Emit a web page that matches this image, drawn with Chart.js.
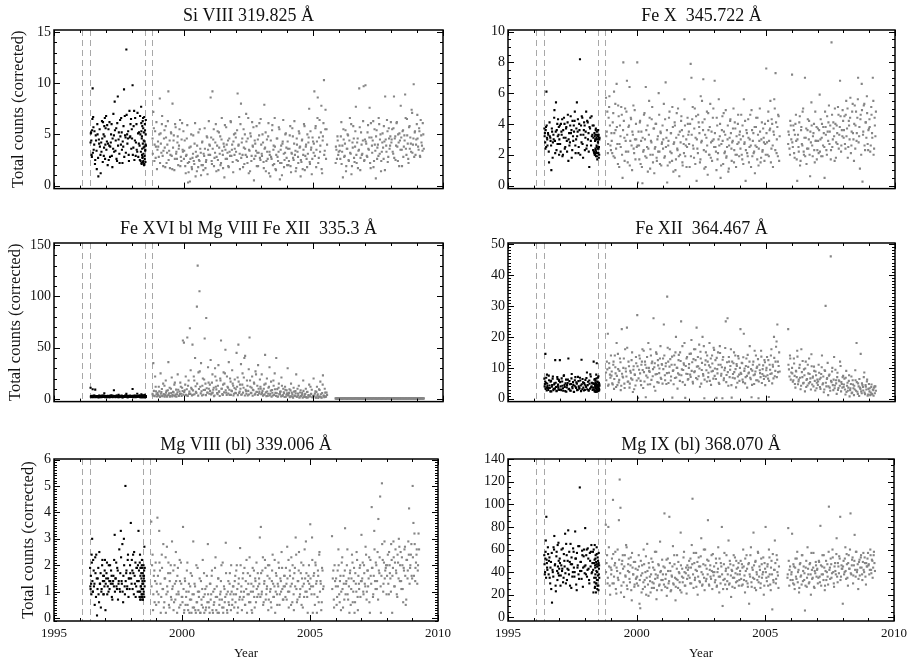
<!DOCTYPE html>
<html>
<head>
<meta charset="utf-8">
<script src="https://cdn.jsdelivr.net/npm/chart.js@4.4.1/dist/chart.umd.min.js"></script>
<style>
  html, body { margin: 0; padding: 0; background: #fff; }
  #wrap { position: relative; width: 912px; height: 662px; overflow: hidden; background: #fff; }
  canvas { position: absolute; }
</style>
</head>
<body>
<div id="wrap">
  <canvas id="c0" width="456" height="200" style="left:0px;top:0px"></canvas>
  <canvas id="c1" width="456" height="200" style="left:456px;top:0px"></canvas>
  <canvas id="c2" width="456" height="200" style="left:0px;top:213px"></canvas>
  <canvas id="c3" width="456" height="200" style="left:456px;top:213px"></canvas>
  <canvas id="c4" width="456" height="233" style="left:0px;top:429px"></canvas>
  <canvas id="c5" width="456" height="233" style="left:456px;top:429px"></canvas>
</div>
<script>
// ---------------- DATA ----------------
const xTicks = [1995, 2000, 2005, 2010];
const dashYears = [1996.08, 1996.40, 1998.49, 1998.76];

// observation times (decimal years), in segments
const blackYears = [
  [1996.41,1996.43,1996.45,1996.47,1996.49,1996.51,1996.53,1996.56,1996.59,1996.62,1996.65,1996.68,1996.71,1996.74,1996.77,1996.80,1996.83,1996.86,1996.89,1996.92,1996.94,1996.96,1996.98],
  [1997.01,1997.04,1997.07,1997.10,1997.13,1997.16,1997.19,1997.22,1997.25,1997.28,1997.31,1997.34,1997.37,1997.40,1997.43,1997.46,1997.49,1997.52,1997.55,1997.58,1997.61,1997.64,1997.67,1997.70,1997.73,1997.76,1997.79,1997.82,1997.85,1997.88,1997.91,1997.94,1997.97],
  [1998.00,1998.03,1998.06,1998.09,1998.12,1998.15,1998.18,1998.21,1998.24,1998.27],
  [1998.30,1998.32,1998.34,1998.36,1998.37,1998.38,1998.39,1998.40,1998.41,1998.42,1998.43,1998.44,1998.45,1998.46,1998.47,1998.48,1998.49,1998.50,1998.51,1998.52,1998.53,1998.54]
];
const blackYears2 = [
  [1996.42,1996.44,1996.46,1996.48,1996.50,1996.52,1996.55,1996.58,1996.61,1996.64,1996.67,1996.70,1996.73,1996.76,1996.79,1996.82,1996.85,1996.88,1996.91,1996.93,1996.95,1996.97,1996.99],
  [1997.02,1997.05,1997.08,1997.11,1997.14,1997.17,1997.20,1997.23,1997.26,1997.29,1997.32,1997.35,1997.38,1997.41,1997.44,1997.47,1997.50,1997.53,1997.56,1997.59,1997.62,1997.65,1997.68,1997.71,1997.74,1997.77,1997.80,1997.83,1997.86,1997.89,1997.92,1997.95,1997.98],
  [1998.01,1998.04,1998.07,1998.10,1998.13,1998.16,1998.19,1998.22,1998.25,1998.28],
  [1998.31,1998.33,1998.35,1998.365,1998.375,1998.385,1998.395,1998.405,1998.415,1998.425,1998.435,1998.445,1998.455,1998.465,1998.475,1998.485,1998.495,1998.505,1998.515,1998.525,1998.535,1998.545]
];
const grayYears = [
  [1998.80,1998.83,1998.87,1998.90,1998.93,1998.97],
  [1999.01,1999.04,1999.08,1999.11,1999.14,1999.17,1999.21,1999.24,1999.27,1999.31,1999.34,1999.37,1999.41,1999.44,1999.47,1999.51,1999.54,1999.57,1999.61,1999.64,1999.67,1999.71,1999.74,1999.77,1999.81,1999.84,1999.87,1999.91,1999.94,1999.97],
  [2000.01,2000.04,2000.08,2000.11,2000.14,2000.17,2000.21,2000.24,2000.27,2000.31,2000.34,2000.37,2000.41,2000.44,2000.47,2000.51,2000.54,2000.57,2000.61,2000.64,2000.67,2000.71,2000.74,2000.77,2000.81,2000.84,2000.87,2000.91,2000.94,2000.97],
  [2001.01,2001.04,2001.08,2001.11,2001.14,2001.17,2001.21,2001.24,2001.27,2001.31,2001.34,2001.37,2001.41,2001.44,2001.47,2001.51,2001.54,2001.57,2001.61,2001.64,2001.67,2001.71,2001.74,2001.77,2001.81,2001.84,2001.87,2001.91,2001.94,2001.97],
  [2002.01,2002.04,2002.08,2002.11,2002.14,2002.17,2002.21,2002.24,2002.27,2002.31,2002.34,2002.37,2002.41,2002.44,2002.47,2002.51,2002.54,2002.57,2002.61,2002.64,2002.67,2002.71,2002.74,2002.77,2002.81,2002.84,2002.87,2002.91,2002.94,2002.97],
  [2003.01,2003.04,2003.08,2003.11,2003.14,2003.17,2003.21,2003.24,2003.27,2003.31,2003.34,2003.37,2003.41,2003.44,2003.47,2003.51,2003.54,2003.57,2003.61,2003.64,2003.67,2003.71,2003.74,2003.77,2003.81,2003.84,2003.87,2003.91,2003.94,2003.97],
  [2004.01,2004.04,2004.08,2004.11,2004.14,2004.17,2004.21,2004.24,2004.27,2004.31,2004.34,2004.37,2004.41,2004.44,2004.47,2004.51,2004.54,2004.57,2004.61,2004.64,2004.67,2004.71,2004.74,2004.77,2004.81,2004.84,2004.87,2004.91,2004.94,2004.97],
  [2005.01,2005.04,2005.08,2005.11,2005.14,2005.17,2005.21,2005.24,2005.27,2005.31,2005.34,2005.37,2005.41,2005.44,2005.47,2005.51],
  [2005.86,2005.89,2005.93,2005.96],
  [2006.01,2006.04,2006.08,2006.11,2006.14,2006.17,2006.21,2006.24,2006.27,2006.31,2006.34,2006.37,2006.41,2006.44,2006.47,2006.51,2006.54,2006.57,2006.61,2006.64,2006.67,2006.71,2006.74,2006.77,2006.81,2006.84,2006.87,2006.91,2006.94,2006.97],
  [2007.01,2007.04,2007.08,2007.11,2007.14,2007.17,2007.21,2007.24,2007.27,2007.31,2007.34,2007.37,2007.41,2007.44,2007.47,2007.51,2007.54,2007.57,2007.61,2007.64,2007.67,2007.71,2007.74,2007.77,2007.81,2007.84,2007.87,2007.91,2007.94,2007.97],
  [2008.01,2008.04,2008.08,2008.11,2008.14,2008.17,2008.21,2008.24,2008.27,2008.31,2008.34,2008.37,2008.41,2008.44,2008.47,2008.51,2008.54,2008.57,2008.61,2008.64,2008.67,2008.71,2008.74,2008.77,2008.81,2008.84,2008.87,2008.91,2008.94,2008.97],
  [2009.01,2009.04,2009.08,2009.11,2009.14,2009.17,2009.21,2009.24]
];
const grayYears2 = [
  [1998.81,1998.85,1998.88,1998.92,1998.95,1998.99],
  [1999.02,1999.06,1999.09,1999.12,1999.16,1999.19,1999.22,1999.26,1999.29,1999.32,1999.36,1999.39,1999.42,1999.46,1999.49,1999.52,1999.56,1999.59,1999.62,1999.66,1999.69,1999.72,1999.76,1999.79,1999.82,1999.86,1999.89,1999.92,1999.96,1999.99],
  [2000.02,2000.06,2000.09,2000.12,2000.16,2000.19,2000.22,2000.26,2000.29,2000.32,2000.36,2000.39,2000.42,2000.46,2000.49,2000.52,2000.56,2000.59,2000.62,2000.66,2000.69,2000.72,2000.76,2000.79,2000.82,2000.86,2000.89,2000.92,2000.96,2000.99],
  [2001.02,2001.06,2001.09,2001.12,2001.16,2001.19,2001.22,2001.26,2001.29,2001.32,2001.36,2001.39,2001.42,2001.46,2001.49,2001.52,2001.56,2001.59,2001.62,2001.66,2001.69,2001.72,2001.76,2001.79,2001.82,2001.86,2001.89,2001.92,2001.96,2001.99],
  [2002.02,2002.06,2002.09,2002.12,2002.16,2002.19,2002.22,2002.26,2002.29,2002.32,2002.36,2002.39,2002.42,2002.46,2002.49,2002.52,2002.56,2002.59,2002.62,2002.66,2002.69,2002.72,2002.76,2002.79,2002.82,2002.86,2002.89,2002.92,2002.96,2002.99],
  [2003.02,2003.06,2003.09,2003.12,2003.16,2003.19,2003.22,2003.26,2003.29,2003.32,2003.36,2003.39,2003.42,2003.46,2003.49,2003.52,2003.56,2003.59,2003.62,2003.66,2003.69,2003.72,2003.76,2003.79,2003.82,2003.86,2003.89,2003.92,2003.96,2003.99],
  [2004.02,2004.06,2004.09,2004.12,2004.16,2004.19,2004.22,2004.26,2004.29,2004.32,2004.36,2004.39,2004.42,2004.46,2004.49,2004.52,2004.56,2004.59,2004.62,2004.66,2004.69,2004.72,2004.76,2004.79,2004.82,2004.86,2004.89,2004.92,2004.96,2004.99],
  [2005.02,2005.06,2005.09,2005.12,2005.16,2005.19,2005.22,2005.26,2005.29,2005.32,2005.36,2005.39,2005.42,2005.46,2005.49,2005.53],
  [2005.87,2005.91,2005.94,2005.98],
  [2006.02,2006.06,2006.09,2006.12,2006.16,2006.19,2006.22,2006.26,2006.29,2006.32,2006.36,2006.39,2006.42,2006.46,2006.49,2006.52,2006.56,2006.59,2006.62,2006.66,2006.69,2006.72,2006.76,2006.79,2006.82,2006.86,2006.89,2006.92,2006.96,2006.99],
  [2007.02,2007.06,2007.09,2007.12,2007.16,2007.19,2007.22,2007.26,2007.29,2007.32,2007.36,2007.39,2007.42,2007.46,2007.49,2007.52,2007.56,2007.59,2007.62,2007.66,2007.69,2007.72,2007.76,2007.79,2007.82,2007.86,2007.89,2007.92,2007.96,2007.99],
  [2008.02,2008.06,2008.09,2008.12,2008.16,2008.19,2008.22,2008.26,2008.29,2008.32,2008.36,2008.39,2008.42,2008.46,2008.49,2008.52,2008.56,2008.59,2008.62,2008.66,2008.69,2008.72,2008.76,2008.79,2008.82,2008.86,2008.89,2008.92,2008.96,2008.99],
  [2009.02,2009.06,2009.09,2009.12,2009.16,2009.19,2009.22,2009.26]
];

// Si VIII 319.825
const siVIII_black = [
  [4.2,5.2,3.0,5.4,9.5,6.7,3.5,5.3,2.5,4.4,1.6,5.0,0.9,4.1,3.8,1.2,3.3,4.6,6.2,2.9,5.8,6.6,4.0],
  [6.8,4.3,2.0,5.5,3.9,2.8,4.2,6.0,1.8,3.6,4.9,8.2,3.4,5.6,2.4,8.7,4.5,3.1,6.4,4.0,5.2,2.2,3.8,9.4,6.8,4.7,13.3,5.0,4.6,3.0,7.3,4.8,6.5],
  [5.5,9.8,3.7,7.3,4.4,2.9,6.0,3.3,5.1,4.1],
  [3.9,6.8,2.4,7.7,5.3,2.1,4.8,3.6,2.7,6.3,2.3,5.6,3.1,4.4,2.0,6.7,3.8,2.6,5.4,3.5,4.0,6.4]
];
const siVIII_black2 = [
  [5.1,4.4,2.8,6.5,3.2,5.7,4.0,2.1,4.9,3.4,6.0,2.7,4.5,5.5,3.0,4.2,6.3,2.3,5.0,3.7,4.8,2.6,5.6],
  [3.5,5.9,4.1,2.5,6.2,3.8,5.0,2.9,4.6,7.0,3.3,5.4,4.4,2.6,6.1,3.9,5.2,2.2,4.8,6.6,3.5,4.3,5.8,2.8,4.9,3.2,6.9,4.1,5.3,2.4,4.7,6.0,3.6],
  [4.6,3.0,5.8,2.5,6.6,4.2,3.5,7.1,2.8,5.2],
  [2.5,5.0,3.3,6.1,2.2,4.6,3.0,5.8,2.8,4.1,6.6,2.4,3.7,5.2,2.1,4.3,2.9,6.0,3.4,2.3,5.0,3.9]
];
const siVIII_gray = [
  [4.6,7.2,2.4,5.3,3.8,1.6],
  [4.3,2.8,8.5,5.1,3.2,6.8,1.9,4.6,3.7,5.8,2.2,4.0,9.2,3.4,1.7,5.2,2.9,8.0,4.4,1.5,6.0,3.1,2.6,4.8,3.6,5.5,1.9,2.4,6.1,3.3],
  [2.6,4.4,1.2,3.0,5.9,0.3,2.3,0.4,3.8,1.8,2.7,4.9,2.1,6.1,3.3,1.4,2.9,5.2,2.4,3.6,1.0,4.2,2.0,3.1,5.6,1.7,2.5,4.7,3.5,6.3],
  [3.9,8.6,2.4,9.2,4.5,1.9,3.2,6.0,2.8,5.3,1.5,3.7,4.8,2.2,6.6,3.0,4.1,0.8,3.5,5.7,2.6,4.4,1.8,3.3,6.3,2.9,4.0,1.3,5.0,3.6],
  [4.7,2.5,9.0,3.9,6.7,1.6,8.0,4.2,3.0,5.5,2.1,3.6,7.0,2.8,4.6,1.2,3.4,5.1,2.4,6.2,3.8,0.5,4.4,2.9,5.8,3.2,1.9,4.9,2.7,6.5],
  [3.1,5.0,2.3,7.9,3.7,1.4,4.5,2.6,6.1,3.3,0.9,2.8,5.4,2.0,3.9,6.6,1.6,3.0,4.6,2.4,5.7,0.6,3.5,2.2,4.1,6.4,1.8,3.2,5.1,2.7],
  [4.3,2.0,3.6,5.8,1.3,3.1,4.8,2.5,6.3,3.4,1.7,4.0,2.8,5.3,3.7,0.9,2.3,4.5,3.0,6.0,1.5,3.8,2.6,5.0,4.2,7.5,2.1,3.5,1.1,4.7],
  [3.2,9.2,5.6,1.8,4.3,8.6,2.7,6.4,3.9,7.8,1.2,4.8,10.3,3.4,7.4,5.5],
  [2.2,3.5,4.8,3.0],
  [3.9,2.6,6.2,3.3,0.8,4.5,2.9,5.4,1.9,3.6,4.9,2.4,6.6,3.1,1.1,4.2,5.8,2.7,3.8,7.7,2.2,4.6,3.4,9.5,1.5,5.2,3.0,4.4,9.7,2.5],
  [9.8,4.1,2.8,5.9,3.5,7.6,1.7,4.7,3.2,6.3,2.4,4.0,0.7,5.4,3.7,2.9,6.0,4.5,1.4,3.3,5.1,2.6,4.3,8.7,3.9,6.4,2.3,5.6,3.6,4.8],
  [4.2,5.5,3.1,8.7,4.6,2.5,6.1,3.8,5.0,1.9,4.4,7.8,3.5,5.3,2.8,4.9,8.9,3.6,6.5,4.1,2.2,5.8,4.7,3.3,7.1,4.0,9.9,5.2,3.0,4.5],
  [6.9,3.8,5.6,2.9,6.4,4.2,3.4,5.0]
];
const siVIII_gray2 = [
  [3.1,5.6,4.0,2.7,6.2,3.5],
  [3.8,5.0,2.2,4.1,6.0,2.9,3.4,5.4,1.8,4.7,3.2,6.3,2.5,4.4,3.0,5.1,1.6,3.7,4.9,2.6,5.7,3.3,4.2,2.0,3.9,6.4,2.8,4.5,3.5,5.3],
  [3.4,1.9,2.9,4.6,2.2,1.3,3.7,2.6,5.0,1.6,3.1,2.4,4.1,0.9,2.8,3.9,1.8,2.5,5.5,3.2,2.0,4.3,1.5,2.9,3.6,2.3,4.8,1.1,3.0,4.0],
  [3.0,4.7,2.1,3.6,5.5,2.7,4.2,1.4,3.9,2.5,5.2,3.1,2.0,4.5,3.4,1.7,3.8,5.9,2.6,4.0,3.2,1.9,4.6,2.9,6.2,3.5,2.3,4.3,3.0,5.1],
  [3.3,5.4,2.4,4.0,3.1,6.0,2.7,4.6,1.8,3.7,5.0,3.0,4.3,2.2,6.6,3.5,1.4,4.8,2.9,3.9,5.7,2.6,4.1,3.4,1.9,4.5,3.2,6.1,2.5,4.0],
  [2.9,4.2,1.7,3.6,5.2,2.4,3.3,4.8,1.2,3.0,4.4,2.6,5.9,3.5,2.1,3.8,1.5,4.6,2.8,3.3,5.5,2.2,3.9,1.0,4.3,3.1,2.5,5.0,3.7,2.0],
  [3.6,2.4,4.9,1.9,3.2,5.6,2.7,4.1,3.0,1.4,4.6,3.3,2.2,5.1,3.8,2.5,4.4,1.6,3.5,5.8,2.9,4.0,1.8,3.1,4.7,2.3,5.3,3.7,2.6,4.3],
  [4.1,2.9,5.8,3.5,6.6,2.2,4.7,3.3,5.2,1.6,4.4,6.1,3.0,5.5,2.6,4.0],
  [3.8,2.6,4.4,3.3],
  [3.4,4.8,2.1,3.9,5.5,2.8,4.1,1.4,3.6,5.0,2.5,4.4,3.2,6.0,1.9,3.7,4.6,2.3,5.3,3.0,4.2,1.7,3.5,5.7,2.7,4.0,3.1,6.3,2.4,4.5],
  [4.3,2.9,5.2,3.6,4.7,2.2,6.1,3.9,4.4,1.8,5.5,3.4,4.8,2.6,4.0,6.6,3.1,5.0,2.4,4.2,3.7,5.8,1.5,4.5,3.3,5.3,2.8,4.6,3.9,6.2],
  [4.5,3.3,5.6,2.7,4.8,3.9,6.2,2.4,4.2,5.1,3.5,4.7,1.9,5.4,3.8,4.4,6.6,3.0,4.9,2.6,5.7,3.6,4.1,7.4,3.2,4.6,2.8,5.3,4.0,6.0],
  [4.6,3.5,5.3,2.8,4.9,3.9,6.1,3.6]
];

// Fe X 345.722
const feX_black = [
  [3.7,3.4,2.4,3.8,6.1,3.1,2.6,3.3,1.5,3.2,2.9,1.0,3.5,2.8,3.0,4.9,2.1,5.4,3.6,2.7,4.3,3.3,2.0],
  [3.9,2.2,3.5,4.3,2.0,3.1,4.0,2.5,3.7,2.9,4.1,1.6,3.4,2.8,4.5,3.6,2.3,3.2,3.9,4.2,2.6,3.0,5.4,3.5,2.1,4.0,8.2,3.3,2.8,4.4,1.8,3.6,3.9],
  [3.1,4.8,2.6,4.1,3.4,1.2,3.7,2.9,4.5,3.3],
  [2.3,3.9,2.1,3.2,2.0,3.0,2.4,3.6,1.9,2.2,3.1,2.5,3.3,1.7,2.1,3.0,2.8,3.2,2.4,1.8,3.1,3.0]
];
const feX_black2 = [
  [3.2,2.8,3.6,2.5,3.9,3.0,3.4,2.2,4.1,3.1,2.6,3.7,1.8,3.3,4.4,2.9,3.5,2.3,4.0,3.2,2.7,3.8,3.0],
  [2.7,4.0,3.3,1.9,3.6,4.4,2.4,3.1,3.8,2.2,4.6,3.0,2.6,3.9,3.4,1.8,4.2,2.9,3.5,4.8,2.1,3.7,3.2,4.3,2.5,3.6,2.0,3.9,4.5,2.7,3.3,4.1,2.3],
  [3.5,2.4,4.2,3.0,2.2,3.8,4.4,2.6,3.2,3.9],
  [3.1,2.2,3.4,2.0,2.9,3.3,2.3,3.7,2.1,3.0,2.6,3.5,1.9,3.2,2.4,2.8,3.6,2.1,3.3,2.5,2.0,3.1]
];
const feX_gray = [
  [5.7,3.5,2.1,4.4,5.8,2.6],
  [3.4,2.1,4.7,6.1,1.8,3.6,6.6,2.7,5.2,1.2,3.9,2.5,4.6,0.5,8.0,3.1,5.0,2.2,6.8,1.5,3.8,6.4,2.9,4.3,1.0,3.3,2.4,4.9,1.7,3.0],
  [8.0,0.2,2.6,4.1,1.4,3.5,0.15,2.2,4.6,3.0,6.4,1.8,3.9,2.4,5.5,1.1,2.9,4.3,2.0,3.7,0.8,2.5,4.0,1.6,3.2,6.0,2.2,3.5,1.3,2.8],
  [2.4,5.3,1.9,6.7,3.1,0.2,2.6,4.4,1.5,3.4,2.1,5.1,0.9,2.8,3.9,1.7,4.7,2.3,3.3,0.6,2.0,4.2,3.6,1.3,2.7,5.6,1.9,3.0,2.5,4.0],
  [3.5,1.2,7.9,7.0,4.3,2.6,1.8,5.0,3.1,0.3,2.4,4.6,3.8,1.5,5.8,2.9,4.1,6.9,1.1,3.3,2.2,4.8,0.7,3.6,2.0,5.3,2.8,1.6,4.4,3.0],
  [6.8,2.5,1.0,3.9,2.1,5.6,3.2,0.5,2.7,4.5,1.4,3.5,2.2,4.9,1.9,3.0,0.9,2.6,4.2,3.4,1.6,2.9,5.0,2.3,3.7,1.2,2.0,4.0,2.8,3.3],
  [2.4,4.6,1.7,3.2,5.6,2.8,0.3,3.6,2.1,4.3,1.5,3.0,2.6,4.9,1.9,3.4,2.2,0.8,3.8,2.5,4.4,1.3,2.9,3.5,1.8,4.1,2.3,3.1,1.6,2.7],
  [7.6,2.8,4.2,1.9,3.6,5.5,2.4,4.0,1.2,3.3,5.0,7.3,2.1,3.8,4.6,1.6],
  [2.7,3.3,2.0,3.9],
  [7.2,2.5,3.6,1.8,4.0,2.9,0.3,3.3,2.2,4.5,1.6,3.8,2.6,5.0,2.0,7.0,3.1,1.4,3.6,2.4,4.2,0.6,2.8,3.9,1.9,3.4,2.3,4.8,2.9,1.7],
  [3.7,2.1,5.9,3.0,1.9,4.0,2.6,3.4,0.5,3.8,2.3,4.5,2.9,5.2,3.5,1.7,9.3,2.5,4.1,3.2,5.0,1.8,3.9,2.7,4.6,3.3,6.8,2.2,3.6,4.9],
  [3.1,4.5,2.4,5.5,3.7,1.8,4.2,3.0,5.7,2.6,4.8,3.4,1.6,5.2,3.9,2.9,4.4,7.0,3.2,1.1,4.6,6.6,0.25,3.5,5.3,2.3,4.1,5.8,2.7,3.6],
  [4.3,2.2,5.1,3.4,7.0,2.0,4.4,3.2]
];
const feX_gray2 = [
  [3.2,4.8,2.7,5.1,3.9,2.3],
  [2.9,4.1,1.9,3.4,5.3,2.4,3.8,1.4,4.5,2.7,3.2,5.1,2.0,3.6,4.2,1.6,2.9,4.8,3.3,2.2,3.9,1.3,4.4,2.6,3.5,5.2,2.1,3.0,4.0,2.5],
  [2.6,3.5,1.7,4.2,2.9,1.2,3.1,2.3,4.7,1.9,3.6,2.5,0.9,3.3,4.4,2.0,2.8,5.1,1.5,3.7,2.4,4.0,1.8,3.0,2.2,4.6,1.4,3.4,2.7,3.9],
  [3.0,1.8,4.3,2.5,3.6,1.3,2.9,4.8,2.2,3.4,1.6,3.8,2.7,4.1,1.0,3.1,2.4,5.0,1.9,3.5,2.8,4.5,1.5,3.2,2.1,3.9,2.6,1.2,4.4,3.3],
  [2.7,4.0,1.9,3.3,5.1,2.4,3.7,1.4,4.5,3.0,2.1,4.1,3.4,1.7,2.8,5.5,3.6,2.3,4.3,1.2,3.1,2.6,4.7,2.0,3.8,1.8,3.5,2.9,5.0,2.5],
  [3.4,2.2,4.4,1.7,3.0,2.6,4.0,1.3,3.6,2.9,4.7,2.1,3.3,1.8,2.5,3.9,1.1,3.1,4.3,2.4,2.8,3.7,1.5,4.1,2.0,3.2,2.7,4.6,1.9,3.5],
  [3.0,2.0,3.9,1.4,2.7,4.2,2.3,3.4,1.9,3.1,2.5,4.6,1.2,3.6,2.9,2.1,3.8,2.6,4.4,1.7,3.3,2.4,5.0,1.5,3.0,2.2,3.7,2.8,4.0,2.0],
  [3.4,2.0,4.8,2.9,3.7,1.5,4.3,2.6,3.5,5.6,2.3,4.1,3.0,1.9,4.5,3.2],
  [3.5,2.4,4.2,3.0],
  [2.8,3.9,2.1,3.3,4.6,1.7,3.0,2.5,4.1,1.3,3.6,2.7,4.8,2.2,3.1,1.9,3.7,2.4,4.3,3.0,2.0,3.5,5.4,2.6,3.2,4.0,1.5,2.9,3.8,2.3],
  [2.9,3.6,2.2,4.3,3.1,1.9,3.8,2.5,4.8,3.3,2.0,3.5,4.1,2.7,3.9,2.3,4.6,3.0,3.7,1.6,4.0,2.8,3.4,5.1,2.4,3.8,4.5,2.6,3.2,4.2],
  [3.6,2.7,4.6,3.2,5.0,2.5,3.9,4.4,2.1,3.5,5.3,3.0,4.0,2.4,4.8,3.4,5.6,2.8,3.8,4.3,2.0,4.9,3.3,5.2,2.6,4.1,3.1,4.7,2.3,3.7],
  [3.8,2.6,4.6,3.1,5.5,2.4,3.9,4.8]
];

// Fe XVI bl Mg VIII Fe XII 335.3
const feXVI_black = [
  [11,2.5,3.0,2.2,9.5,2.8,1.8,3.1,9.2,2.4,2.0,2.9,1.6,3.3,2.3,2.7,1.9,3.5,2.1,2.6,5.5,2.2,3.0],
  [2.4,1.9,3.2,2.1,2.8,1.7,2.5,3.6,2.0,2.3,8.5,2.9,1.8,2.6,3.1,2.2,4.0,1.9,2.7,2.4,3.3,1.6,2.5,2.9,2.1,3.0,5.0,2.3,1.8,2.8,2.2,3.4,2.0],
  [2.6,9.8,2.1,3.2,2.4,1.9,2.8,5.2,2.3,3.0],
  [2.1,3.4,1.8,2.6,4.5,2.2,3.1,1.9,2.7,2.4,3.5,2.0,2.8,1.7,3.2,2.5,2.1,4.0,2.3,1.8,3.0,2.6]
];
const feXVI_black2 = [
  [2.3,2.9,1.8,3.2,2.5,2.0,3.4,2.6,1.9,2.8,3.0,2.2,2.7,1.7,3.1,2.4,2.0,2.9,3.3,2.1,2.6,1.9,2.8],
  [2.2,3.0,2.5,1.8,2.9,3.3,2.1,2.6,1.9,3.1,2.4,2.8,2.0,3.5,2.3,1.7,2.7,3.2,2.2,2.5,3.0,1.9,2.6,2.1,3.4,2.4,2.8,1.8,3.1,2.3,2.7,2.0,2.9],
  [2.4,3.1,1.9,2.7,3.3,2.2,2.5,2.0,2.9,3.5],
  [2.6,1.9,3.0,2.3,2.8,2.0,3.3,2.4,1.8,2.9,2.2,3.1,2.5,2.0,2.7,3.4,1.9,2.6,2.2,3.0,2.4,2.1]
];
const feXVI_gray = [
  [5.0,35,3.2,22,7.5,2.5],
  [4.1,12,2.6,25,6.8,3.0,15,4.5,2.2,18,8.0,3.5,36,5.6,2.4,10,21,3.8,6.5,14,2.8,9.2,4.7,24,3.1,7.4,16,5.2,11,57],
  [55,8.5,22,3.6,60,13,5.0,69,28,9.6,53,4.2,18,40,7.0,90,130,26,105,12,35,3.4,20,8.8,59,15,79,6.1,31,10],
  [14,38,5.5,24,9.0,2.8,30,12,18,4.6,33,7.5,20,57,10,3.9,26,15,48,6.3,22,11,36,4.0,17,8.2,28,13,5.1,19],
  [9.5,45,21,53,6.0,14,34,4.4,25,11,40,42,7.7,18,3.6,29,60,12,5.8,22,9.0,16,4.2,27,7.0,13,33,5.5,19,10],
  [24,8.0,3.9,14,43,6.5,20,2.9,11,31,5.2,17,8.8,3.4,13,25,6.0,40,9.7,2.5,15,4.8,7.3,21,3.1,10,5.6,12,2.2,8.4],
  [30,4.0,9.5,2.6,15,6.2,1.8,11,3.5,7.8,24,2.3,5.4,13,1.5,8.6,3.0,6.0,18,2.1,4.7,10,1.2,7.0,3.3,14,2.7,5.2,9.0,1.7],
  [20,3.6,7.5,1.4,12,4.5,2.2,8.8,17,1.6,5.9,23,3.1,10,2.0,6.4],
  [0.6,0.4,0.7,0.5],
  [0.6,0.5,0.7,0.4,0.6,0.5,0.8,0.5,0.6,0.4,0.7,0.5,0.6,0.6,0.5,0.7,0.4,0.6,0.5,0.6,0.8,0.5,0.6,0.4,0.5,0.7,0.6,0.5,0.6,0.4],
  [0.5,0.6,0.4,0.7,0.5,0.6,0.5,0.8,0.4,0.6,0.5,0.7,0.6,0.4,0.5,0.6,0.7,0.5,0.4,0.6,0.5,0.7,0.6,0.5,0.4,0.6,0.8,0.5,0.6,0.5],
  [0.6,0.4,0.5,0.7,0.6,0.5,0.4,0.6,0.7,0.5,0.6,0.4,0.5,0.8,0.6,0.5,0.7,0.4,0.6,0.5,0.6,0.7,0.5,0.4,0.6,0.5,0.7,0.6,0.4,0.5],
  [0.6,0.5,0.4,0.7,0.5,0.6,0.5,0.4]
];
const feXVI_gray2 = [
  [3.5,8.0,2.8,12,4.6,6.0],
  [3.3,7.5,2.1,5.2,9.8,2.7,4.6,13,3.8,6.2,2.4,8.5,4.1,11,3.0,5.8,2.6,7.0,3.5,16,4.4,2.2,6.6,9.0,3.2,5.0,12,2.9,7.8,4.3],
  [6.8,14,4.0,9.5,3.1,18,7.2,5.0,11,3.6,8.4,22,4.7,12.5,6.0,15,3.3,9.8,27,5.5,7.6,13,4.2,19,8.9,3.8,10.5,6.4,16,5.1],
  [8.0,4.5,16,6.2,11,3.5,22,9.4,5.8,13,7.1,3.0,18,10,4.8,14,6.5,25,8.6,3.9,12,5.4,9.0,20,4.1,7.7,15,3.4,10.8,6.0],
  [5.6,12,3.8,17,7.4,10,4.2,14,6.3,21,3.5,9.0,5.2,13,7.9,4.4,18,6.0,11,3.2,8.5,15,5.0,24,6.8,3.9,10,7.2,12,4.6],
  [6.0,3.2,10,4.5,15,2.8,7.4,5.2,12,3.6,8.2,2.4,6.1,18,4.0,9.5,3.0,5.6,2.2,11,4.8,7.0,2.6,13,3.8,6.5,2.0,9.0,4.2,5.5],
  [3.4,6.0,1.9,8.4,2.6,4.5,1.4,7.2,3.0,5.5,2.2,10,3.7,1.6,6.4,2.8,4.2,1.2,8.0,3.3,5.0,2.0,6.8,1.5,3.9,2.5,12,4.6,1.8,3.0],
  [2.8,5.4,1.5,7.0,3.2,1.1,9.5,2.4,4.6,1.3,14,3.5,1.8,6.2,2.6,4.0],
  [0.5,0.6,0.4,0.7],
  [0.5,0.6,0.5,0.4,0.7,0.6,0.5,0.6,0.4,0.5,0.7,0.6,0.5,0.6,0.4,0.5,0.7,0.5,0.6,0.5,0.4,0.6,0.5,0.7,0.6,0.5,0.4,0.6,0.5,0.7],
  [0.6,0.5,0.4,0.6,0.5,0.7,0.6,0.4,0.5,0.6,0.5,0.6,0.7,0.4,0.5,0.6,0.5,0.6,0.4,0.7,0.5,0.6,0.5,0.4,0.6,0.7,0.5,0.6,0.5,0.4],
  [0.5,0.4,0.6,0.7,0.5,0.6,0.5,0.4,0.6,0.5,0.7,0.6,0.5,0.4,0.6,0.5,0.7,0.6,0.5,0.4,0.6,0.5,0.6,0.7,0.5,0.4,0.6,0.5,0.6,0.5],
  [0.5,0.6,0.4,0.6,0.5,0.7,0.5,0.6]
];

// Fe XII 364.467
const feXII_black = [
  [6.5,4.8,14.5,5.2,3.6,7.8,4.1,2.9,6.0,3.5,5.5,2.4,4.4,7.2,3.2,5.0,12.5,3.8,2.6,6.4,4.6,3.0,5.8],
  [12.5,4.0,2.8,5.6,3.4,7.4,4.5,2.5,6.2,3.7,5.1,13.0,3.2,4.7,2.6,6.6,3.9,5.4,2.3,4.2,7.0,3.5,4.9,2.9,5.7,3.6,6.8,4.3,12.6,3.1,5.3,2.7,4.6],
  [6.1,3.8,8.5,4.4,2.8,5.9,3.3,7.2,4.0,5.0],
  [3.6,12.0,4.8,2.5,6.4,3.9,5.3,2.2,4.5,7.8,3.4,11.5,4.1,2.9,5.6,3.7,6.9,4.4,2.6,5.1,3.2,4.7]
];
const feXII_black2 = [
  [4.0,5.6,3.2,6.8,2.7,4.9,3.5,7.5,4.3,2.4,5.8,3.9,6.5,2.8,4.6,3.3,5.2,2.5,7.0,4.1,3.6,6.1,2.9],
  [5.4,3.0,6.6,4.2,2.6,7.6,3.8,5.0,2.3,4.4,6.2,3.1,5.7,2.7,4.8,8.0,3.4,4.5,2.2,6.0,3.9,5.3,2.8,7.1,4.0,3.3,5.9,2.5,4.7,6.4,3.6,5.1,2.9],
  [4.3,6.7,3.1,5.5,2.6,4.9,7.9,3.7,5.2,2.9],
  [5.0,3.0,6.2,2.4,4.3,3.5,5.9,2.7,4.8,3.2,6.6,2.3,4.0,5.4,3.1,4.6,2.5,7.3,3.8,5.2,2.8,4.2]
];
const feXII_gray = [
  [8.5,12,21,4.6,10,6.8],
  [7.5,5.0,11,3.2,14,8.2,18,4.4,9.6,6.1,13,2.8,22.5,7.2,10,4.9,16,8.8,23,5.5,12,3.6,9.0,6.6,15,2.2,10.5,7.9,4.3,11.5],
  [27,0.3,9.4,13,5.8,11,16,3.5,8.6,12,0.5,10,6.9,18,9.0,4.7,14,11.5,7.3,26,10.2,2.6,15,8.0,12.5,5.2,9.8,17,6.4,11],
  [13,24,7.6,10.5,4.8,33,12,8.4,16,5.9,11,0.4,9.2,14,6.7,20,10,3.3,12.5,7.8,15,25,9.5,5.4,11.5,18,0.3,8.1,13.5,6.2],
  [10,14.5,7.1,19,11.8,5.0,16,8.9,12.5,23,6.3,10.5,17.5,3.9,13,9.3,20,7.5,0.2,11,15,5.6,12,8.4,18,10.2,4.5,14,9.0,16.5],
  [7.4,12.5,0.3,9.6,15,5.2,17,11,8.1,0.2,13.5,6.6,10,25,7.7,26,4.2,12,9.4,16,0.4,6.8,11.5,8.6,14,3.7,10.6,7.2,13,5.8],
  [22.5,8.0,11.5,5.4,21,9.8,7.0,13,3.6,10.3,8.5,17,6.3,0.5,9.1,12,4.8,7.9,14,10,6.0,0.2,11,8.3,15.5,5.1,9.6,7.4,12.5,4.4],
  [9.2,13.5,6.5,0.6,11,8.0,16,5.0,10.4,20,7.3,12,18.5,24,8.6,15],
  [22.5,9.5,14,6.2],
  [10,5.5,13,7.4,3.6,8.8,15.5,4.7,6.2,11,3.1,16,7.0,5.0,9.5,2.4,12,6.1,4.3,8.2,13,5.4,3.0,10.5,6.8,4.0,9.0,2.7,7.6,5.2],
  [4.5,11,6.3,3.2,8.0,14,5.0,2.1,9.2,30,4.0,6.7,1.2,7.5,3.6,46,5.4,10,2.8,13.5,4.3,6.0,1.6,8.4,3.5,5.7,12,2.4,4.8,7.0],
  [3.8,6.5,1.4,9.0,4.2,2.6,5.8,0.8,3.4,7.2,2.0,4.6,1.2,3.0,6.0,18,2.3,5.0,0.9,3.6,14.5,1.8,4.4,2.7,8.5,1.5,3.9,5.6,1.0,3.2],
  [2.4,1.2,3.8,1.6,3.0,1.0,4.0,4.0]
];
const feXII_gray2 = [
  [6.0,9.5,4.2,11.5,7.8,14],
  [8.8,4.6,12,6.4,10.2,3.8,7.4,14.5,5.3,9.0,11.8,4.2,8.1,6.9,13,3.5,9.8,7.2,16.5,5.6,10.5,4.9,8.4,12.5,6.2,9.4,3.1,7.7,13.5,5.9],
  [10.5,6.6,14,8.2,4.4,12,9.3,15.5,5.6,11,7.5,13.5,4.6,10,8.7,16,6.1,12,9.6,3.9,11.5,7.9,14.5,5.4,10.8,8.3,13,6.8,11.2,4.9],
  [9.6,14,6.0,11.5,8.3,16.5,5.1,10.4,12.8,7.2,13.6,9.0,4.7,11,15,6.9,10,8.2,14.2,5.8,12.2,7.6,17,9.3,11,4.5,10.6,13,8.0,6.4],
  [11.2,7.8,14.6,9.0,5.5,12.8,8.6,16,6.7,10.4,13.5,7.3,9.8,15.2,4.9,11.6,8.0,17,6.2,12.4,9.2,14,7.0,10.8,5.8,13,8.8,11.4,6.5,15.8],
  [9.8,6.4,13.2,8.2,11,4.8,14.8,7.5,10.2,12.6,6.0,9.2,16.4,5.4,11.8,8.6,13.5,7.0,10.6,4.4,12,8.0,15,6.6,9.6,11.2,5.2,13.8,7.8,10],
  [8.4,11.6,6.2,13.4,9.0,5.0,10.6,7.4,14.2,8.2,12,6.8,9.6,4.5,11,7.6,15.5,8.8,6.0,10.4,12.8,5.6,9.2,7.0,13.6,8.0,10.8,6.4,11.8,7.2],
  [10,7.6,12.5,5.8,9.4,14,8.2,11,6.6,13.2,9.0,16.8,7.0,12,10.6,8.8],
  [11,7.2,13,8.5],
  [8.2,6.0,11.4,4.8,9.0,7.0,13.6,5.6,10,6.8,4.2,8.6,12.2,5.2,7.6,9.8,3.8,6.4,11,5.0,8.0,6.6,14.4,4.6,7.2,10.4,5.8,8.8,3.4,6.2],
  [5.6,8.4,3.8,6.8,10.2,4.6,7.2,3.0,9.0,5.2,6.4,11.6,4.0,7.8,2.6,5.8,8.8,4.4,6.2,3.4,9.4,5.0,7.0,2.9,6.0,4.2,10.6,5.4,3.6,7.4],
  [4.6,3.0,6.8,2.2,5.2,3.6,7.6,2.8,4.8,1.8,6.0,3.4,4.2,9.2,2.6,5.4,1.6,4.0,6.4,3.2,2.4,5.0,3.8,7.0,2.0,4.4,3.0,6.2,1.4,4.8],
  [3.4,2.0,4.6,1.4,2.8,3.6,1.8,2.6]
];

// Mg VIII (bl) 339.006
const mgVIII_black = [
  [1.9,1.1,1.3,2.4,3.0,1.0,2.2,1.2,0.5,1.7,2.4,0.1,1.5,0.9,2.5,1.3,0.4,1.1,2.2,1.6,0.9,1.4,1.8],
  [0.3,1.5,2.1,1.2,1.0,1.4,2.0,1.3,1.6,0.7,1.4,1.2,3.15,1.5,2.1,1.1,1.8,1.3,2.6,1.0,3.3,1.4,2.8,0.6,3.0,1.2,5.0,1.7,1.1,2.2,0.8,1.5,2.0],
  [3.6,1.3,1.8,2.4,0.9,1.6,2.1,1.2,1.9,1.0],
  [3.3,1.8,0.8,2.4,1.0,1.9,0.7,1.2,1.7,0.9,2.0,0.8,1.3,1.9,0.7,1.1,1.6,0.9,1.5,1.8,2.7,1.2]
];
const mgVIII_black2 = [
  [1.2,1.6,0.9,2.1,1.4,1.0,1.8,1.3,2.3,0.8,1.5,1.1,1.9,0.6,1.3,1.7,1.0,2.0,1.4,0.9,1.6,1.2,2.2],
  [1.3,1.7,0.9,1.5,2.0,1.1,1.4,1.8,0.8,1.3,1.6,2.2,1.0,1.5,1.2,1.9,0.7,1.4,1.1,1.7,2.3,1.3,1.0,1.6,2.0,0.9,1.4,1.8,1.2,2.4,1.5,1.1,1.7],
  [1.5,2.2,1.1,1.7,2.5,1.3,0.8,1.9,1.4,2.0],
  [1.4,1.0,2.1,0.7,1.6,1.2,1.9,0.8,1.5,1.1,2.2,0.9,1.4,1.7,0.7,1.3,2.0,1.0,1.6,0.8,1.4,1.9]
];
const mgVIII_gray = [
  [3.65,2.0,0.3,1.6,0.6,2.1],
  [1.3,3.8,0.9,3.3,1.8,0.2,2.4,1.1,2.8,0.6,1.5,0.2,2.7,1.0,2.1,0.4,1.7,0.8,2.9,1.2,0.3,2.0,0.7,1.4,0.2,1.9,0.9,2.2,0.5,1.3],
  [0.8,3.45,0.2,1.5,0.5,1.0,2.1,0.3,1.3,0.7,1.7,0.2,0.9,2.9,0.4,1.2,0.2,0.6,1.9,0.3,1.0,0.2,1.4,0.5,2.2,0.8,0.2,1.1,0.4,1.6],
  [2.8,0.6,0.2,1.3,0.9,1.8,0.2,0.5,1.1,2.3,0.3,0.8,1.5,0.2,0.7,1.0,2.0,0.4,0.2,1.2,0.6,2.85,0.9,0.2,1.4,0.5,1.7,0.3,1.0,0.7],
  [1.2,0.4,1.6,0.9,2.0,0.2,1.3,0.7,2.65,1.0,0.3,1.5,0.8,1.9,0.5,1.1,0.2,1.7,0.9,2.3,0.6,1.3,0.2,1.0,1.8,0.4,1.4,2.1,0.8,1.2],
  [1.5,3.05,3.45,0.9,1.8,0.5,1.3,2.2,0.7,1.1,1.6,0.3,2.0,1.0,0.6,1.4,2.4,0.8,1.2,0.2,1.7,0.9,1.3,2.1,0.5,1.5,1.0,1.9,0.7,1.2],
  [1.6,0.8,1.3,2.7,1.0,0.4,1.8,1.2,2.3,0.6,1.5,0.3,1.9,3.05,1.1,0.7,1.4,2.5,0.9,1.7,0.5,1.2,2.0,0.8,1.5,2.9,1.0,0.2,1.6,1.3],
  [3.55,1.2,3.05,0.2,1.6,0.9,2.1,1.3,0.2,1.8,0.6,2.5,1.4,0.3,1.9,1.1],
  [3.1,1.5,0.7,2.0],
  [1.2,0.5,1.8,2.6,0.9,1.4,0.3,2.1,1.1,1.6,0.7,3.4,1.3,2.0,0.9,1.5,0.2,1.8,1.1,2.4,0.6,1.4,0.2,1.7,1.0,2.2,0.3,1.3,1.9,0.8],
  [3.15,1.5,1.0,2.0,1.3,2.7,0.7,1.8,1.2,2.3,0.2,1.6,4.2,1.9,0.9,3.3,1.4,2.1,1.1,2.5,3.75,1.7,4.6,0.2,5.1,2.2,1.3,2.9,1.8,2.0],
  [1.6,2.4,0.9,2.0,1.5,2.8,0.2,1.9,2.3,1.2,2.6,1.7,0.8,2.1,3.0,1.4,2.5,1.1,2.0,0.6,1.8,2.7,0.5,2.2,1.5,2.9,4.15,1.9,2.4,1.6],
  [5.0,3.6,3.2,1.4,2.1,2.6,1.8,3.2]
];
const mgVIII_gray2 = [
  [1.2,2.4,0.9,1.8,1.4,0.5],
  [1.0,1.6,0.6,2.1,1.3,0.8,1.9,1.1,0.4,1.5,2.3,0.9,1.2,1.7,0.5,1.4,2.0,0.7,1.1,1.8,0.6,1.3,2.5,0.9,1.6,1.0,0.4,1.4,2.1,0.8],
  [0.6,1.1,0.3,1.4,0.8,1.8,0.5,1.0,0.2,1.2,0.7,1.6,0.4,0.9,1.3,0.3,2.0,0.6,1.0,0.8,1.5,0.2,0.7,1.1,0.4,1.7,0.9,0.3,1.2,0.6],
  [0.9,0.4,1.3,0.7,1.6,0.3,1.0,0.6,1.9,0.8,1.2,0.2,1.5,0.5,0.9,1.4,0.7,2.1,0.4,1.1,0.8,1.7,0.3,1.0,0.6,1.3,0.9,2.0,0.5,1.2],
  [0.9,1.4,0.6,1.8,1.1,0.4,1.5,0.8,2.0,1.2,0.7,1.7,1.0,0.5,1.4,2.2,0.9,1.3,0.6,1.6,1.0,0.3,1.9,1.2,0.8,1.5,0.6,1.1,1.7,0.9],
  [1.3,0.8,1.7,1.0,2.3,0.6,1.4,1.9,0.9,1.2,2.0,0.7,1.5,1.1,0.4,1.8,1.3,0.8,2.2,1.0,1.6,0.5,1.2,1.9,0.9,1.4,2.5,1.1,0.7,1.6],
  [1.2,1.9,0.7,1.5,2.2,1.0,1.6,0.5,1.3,2.0,0.9,1.7,1.2,2.4,0.6,1.4,1.8,0.8,1.1,2.1,1.5,0.4,1.3,2.6,1.0,1.7,0.8,1.4,2.0,1.1],
  [1.5,0.9,2.2,1.2,1.7,0.5,2.0,1.4,0.8,1.6,2.4,1.0,1.3,0.6,1.8,1.2],
  [1.1,1.8,0.4,1.4],
  [1.5,0.8,1.2,2.0,0.6,1.6,1.0,2.3,0.4,1.3,1.8,0.9,1.4,2.6,0.7,1.2,1.7,0.5,1.5,2.1,1.0,1.9,0.6,1.3,2.5,0.8,1.6,1.1,2.0,1.4],
  [1.4,2.1,0.9,1.7,1.2,2.4,1.0,1.8,1.5,0.6,2.2,1.3,1.9,0.8,1.6,2.6,1.1,2.0,1.4,0.7,1.8,2.3,1.2,1.6,2.8,1.0,2.1,1.5,1.9,0.9],
  [2.0,1.3,2.5,1.7,1.0,2.2,1.6,2.9,1.2,2.1,1.8,0.9,2.4,1.5,2.7,2.0,1.4,2.3,1.1,1.9,2.6,1.6,0.7,2.2,1.8,2.4,1.3,2.0,2.8,1.5],
  [2.3,1.6,2.8,1.9,2.4,1.3,2.0,2.6]
];

// Mg IX (bl) 368.070
const mgIX_black = [
  [55,38,52,68,89,48,42,56,50,35,44,25,13,40,62,72,47,23,58,33,45,66,37],
  [52,28,46,41,61,35,50,74,30,55,43,77,38,49,65,26,47,40,58,36,76,52,24,44,63,34,115,49,41,59,27,54,45],
  [79,38,60,42,52,33,57,45,64,40],
  [58,22,48,31,64,27,44,52,35,22,47,30,56,40,25,45,33,50,28,48,38,46]
];
const mgIX_black2 = [
  [47,40,58,35,51,44,62,38,53,30,49,57,42,36,60,46,28,54,41,64,39,50,43],
  [48,37,60,43,31,56,45,39,65,33,50,42,58,28,47,53,36,61,44,40,52,29,57,46,38,63,41,49,34,55,44,60,39],
  [46,55,36,61,43,30,50,58,39,48],
  [42,60,35,51,26,46,38,55,30,49,41,62,33,45,28,53,37,47,24,57,43,35]
];
const mgIX_gray = [
  [82,48,30,80,45,20],
  [38,52,104,30,46,58,21,41,35,86,122,97,28,50,43,18,55,36,62,25,47,40,31,53,15,44,38,27,49,34],
  [30,42,55,12,8,37,46,25,60,33,40,20,65,29,48,36,22,52,31,44,26,58,38,16,35,47,28,67,41,24],
  [33,45,92,27,38,19,52,30,89,41,24,36,63,29,47,15,34,55,26,40,31,75,22,43,35,58,28,39,21,46],
  [37,50,30,44,64,105,26,48,35,57,41,20,53,32,45,70,28,38,60,24,46,34,51,86,29,42,36,55,25,40],
  [45,31,52,27,40,62,22,36,48,80,10,33,57,29,43,25,38,68,30,47,18,41,35,55,26,39,50,32,44,28],
  [38,50,28,44,60,33,22,41,55,30,47,12,36,62,27,42,75,34,49,24,38,58,31,45,26,52,35,40,20,48],
  [80,35,45,28,60,38,24,50,7,33,42,68,30,55,40,26],
  [35,79,28,45],
  [38,74,30,45,25,52,34,58,40,22,47,36,29,55,41,33,6,44,27,62,38,31,48,20,42,35,57,26,39,46],
  [42,30,50,36,81,28,45,38,55,24,41,33,47,29,98,44,52,35,60,40,27,48,38,70,31,45,54,89,36,43],
  [12,50,40,62,34,47,28,55,43,92,38,51,30,46,73,36,58,42,25,49,37,53,44,33,57,40,48,29,45,52],
  [46,38,60,42,51,35,55,48]
];
const mgIX_gray2 = [
  [40,55,35,62,28,44],
  [42,30,56,36,48,25,44,60,33,51,39,22,47,55,31,45,37,64,28,41,52,34,46,24,57,38,49,29,43,35],
  [36,28,45,33,50,22,39,31,47,27,54,35,41,19,44,32,38,26,49,30,42,34,58,24,37,46,29,40,33,51],
  [38,29,44,34,51,26,41,32,48,23,37,45,30,55,35,27,43,33,49,39,24,46,36,31,53,40,28,44,34,42],
  [44,35,52,30,47,38,57,33,42,27,49,36,45,31,54,40,29,47,35,60,32,43,38,50,28,46,34,41,56,37],
  [40,33,48,28,43,36,52,30,45,38,25,47,34,41,55,32,44,29,50,37,42,27,46,35,53,31,43,38,48,33],
  [41,34,47,29,45,37,52,32,43,27,48,38,55,31,44,35,46,26,50,40,33,57,36,42,30,47,38,53,28,43],
  [40,32,47,36,53,29,44,38,56,31,42,48,34,51,37,45],
  [38,50,42,33],
  [40,33,47,29,44,36,52,31,42,26,48,37,55,32,45,39,28,50,35,43,30,47,38,57,34,44,27,41,49,36],
  [43,35,49,31,46,38,55,33,44,28,50,40,36,58,42,34,47,39,53,30,45,41,56,36,48,39,52,33,46,43],
  [45,38,52,41,56,35,48,43,60,39,46,53,37,50,42,58,40,47,34,51,44,55,38,49,42,53,36,48,45,57],
  [47,42,55,39,50,44,58,41]
];

const titles = ['Si VIII 319.825 \u00C5', 'Fe X  345.722 \u00C5', 'Fe XVI bl Mg VIII Fe XII  335.3 \u00C5',
                'Fe XII  364.467 \u00C5', 'Mg VIII (bl) 339.006 \u00C5', 'Mg IX (bl) 368.070 \u00C5'];
const siVIII_yTicks = [0, 5, 10, 15];
const feX_yTicks = [0, 2, 4, 6, 8, 10];
const feXVI_yTicks = [0, 50, 100, 150];
const feXII_yTicks = [0, 10, 20, 30, 40, 50];
const mgVIII_yTicks = [0, 1, 2, 3, 4, 5, 6];
const mgIX_yTicks = [0, 20, 40, 60, 80, 100, 120, 140];
const yMinorSteps = [1, 0.5, 10, 1, 0.1, 5];
const yRanges = [[-0.3, 15.2], [-0.2, 10.1], [-2.5, 152], [-0.9, 50.3], [-0.11, 6.02], [-3.3, 140.2]];

// ---------------- CHARTS ----------------
const FONT = "'Liberation Serif', 'Times New Roman', serif";
Chart.defaults.font.family = FONT;

function pts(years, vals) {
  const out = [];
  years.forEach((seg, s) => {
    const v = vals[s] || [];
    const n = Math.min(seg.length, v.length);
    for (let i = 0; i < n; i++) out.push({ x: seg[i], y: v[i] });
  });
  return out;
}

const framePlugin = {
  id: 'frame',
  beforeDatasetsDraw(chart, args, opts) {
    const { ctx, chartArea: a } = chart;
    const xs = chart.scales.x;
    ctx.save();
    ctx.strokeStyle = '#a8a8a8';
    ctx.lineWidth = 1;
    ctx.setLineDash([6, 4]);
    dashYears.forEach(yr => {
      const px = Math.round(xs.getPixelForValue(yr)) + 0.5;
      ctx.beginPath();
      ctx.moveTo(px, a.top);
      ctx.lineTo(px, a.bottom);
      ctx.stroke();
    });
    ctx.restore();
  },
  afterDatasetsDraw(chart, args, opts) {
    const { ctx, chartArea: a } = chart;
    const xs = chart.scales.x, ys = chart.scales.y;
    ctx.save();
    ctx.strokeStyle = '#000';
    ctx.lineWidth = 1;
    const step = opts.minor;
    const k0 = Math.ceil(ys.min / step - 1e-9), k1 = Math.floor(ys.max / step + 1e-9);
    for (let k = k0; k <= k1; k++) {
      const v = k * step;
      const major = opts.majors.some(m => Math.abs(m - v) < step / 10);
      const len = major ? 6 : 3;
      const py = Math.round(ys.getPixelForValue(v)) + 0.5;
      ctx.beginPath();
      ctx.moveTo(a.left, py); ctx.lineTo(a.left + len, py);
      ctx.moveTo(a.right, py); ctx.lineTo(a.right - len, py);
      ctx.stroke();
    }
    for (let yr = 1995; yr <= 2010; yr++) {
      const major = xTicks.includes(yr);
      const len = major ? 6 : 3;
      const px = Math.round(xs.getPixelForValue(yr)) + 0.5;
      ctx.beginPath();
      ctx.moveTo(px, a.bottom); ctx.lineTo(px, a.bottom - len);
      ctx.moveTo(px, a.top); ctx.lineTo(px, a.top + len);
      ctx.stroke();
    }
    ctx.lineWidth = 1.5;
    ctx.strokeRect(a.left, a.top, a.right - a.left, a.bottom - a.top);
    ctx.restore();
  }
};

const panels = [
  { black: siVIII_black, black2: siVIII_black2, gray: siVIII_gray, gray2: siVIII_gray2, yTicks: siVIII_yTicks },
  { black: feX_black, black2: feX_black2, gray: feX_gray, gray2: feX_gray2, yTicks: feX_yTicks },
  { black: feXVI_black, black2: feXVI_black2, gray: feXVI_gray, gray2: feXVI_gray2, yTicks: feXVI_yTicks },
  { black: feXII_black, black2: feXII_black2, gray: feXII_gray, gray2: feXII_gray2, yTicks: feXII_yTicks },
  { black: mgVIII_black, black2: mgVIII_black2, gray: mgVIII_gray, gray2: mgVIII_gray2, yTicks: mgVIII_yTicks },
  { black: mgIX_black, black2: mgIX_black2, gray: mgIX_gray, gray2: mgIX_gray2, yTicks: mgIX_yTicks }
];
const yTitlePad = [8.6, 5.6, 18.6];

panels.forEach((p, i) => {
  const col = i % 2, row = Math.floor(i / 2);
  const isLeft = col === 0, isBottom = row === 2;
  const xScale = {
    type: 'linear', min: 1995, max: 2010, display: isBottom,
    afterBuildTicks: s => { s.ticks = xTicks.map(v => ({ value: v })); },
    grid: { display: false, drawTicks: false },
    border: { display: false },
    ticks: { font: { size: 13 }, color: '#111', padding: 5, maxRotation: 0, autoSkip: false,
             callback: v => String(v) },
    title: { display: true, text: 'Year', font: { size: 13 }, color: '#111', padding: { top: 0, bottom: 1 } }
  };
  if (isBottom) xScale.afterFit = s => { s.height = 41; };
  const grayPts = pts(grayYears, p.gray).concat(pts(grayYears2, p.gray2));
  const blackPts = pts(blackYears, p.black).concat(pts(blackYears2, p.black2));
  new Chart(document.getElementById('c' + i), {
    type: 'scatter',
    data: {
      datasets: [
        { data: grayPts, backgroundColor: '#858585', borderWidth: 0,
          pointStyle: 'rect', pointRadius: 1.5, pointHoverRadius: 1.5 },
        { data: blackPts, backgroundColor: '#000', borderWidth: 0,
          pointStyle: 'rect', pointRadius: 1.5, pointHoverRadius: 1.5 }
      ]
    },
    options: {
      responsive: false, animation: false, devicePixelRatio: 1, events: [],
      layout: { padding: { left: 0, top: 0, right: isLeft ? 13 : 17, bottom: row === 0 ? 7 : (row === 1 ? 6 : 0) } },
      plugins: {
        legend: { display: false }, tooltip: { enabled: false },
        title: { display: true, text: titles[i], fullSize: false, color: '#111',
                 font: { size: 18, weight: 'normal' }, padding: { top: 5, bottom: 3.4 } },
        frame: { minor: yMinorSteps[i], majors: p.yTicks }
      },
      scales: {
        x: xScale,
        y: {
          type: 'linear', min: yRanges[i][0], max: yRanges[i][1],
          afterBuildTicks: s => { s.ticks = p.yTicks.map(v => ({ value: v })); },
          afterFit: s => { s.width = isLeft ? 54 : 52; },
          grid: { display: false, drawTicks: false },
          border: { display: false },
          ticks: { font: { size: 14 }, color: '#111', padding: 3, autoSkip: false, callback: v => String(v) },
          title: { display: isLeft, text: 'Total counts (corrected)', font: { size: 16.5 }, color: '#111',
                   padding: { top: yTitlePad[row], bottom: 0 } }
        }
      }
    },
    plugins: [framePlugin]
  });
});
</script>
</body>
</html>
